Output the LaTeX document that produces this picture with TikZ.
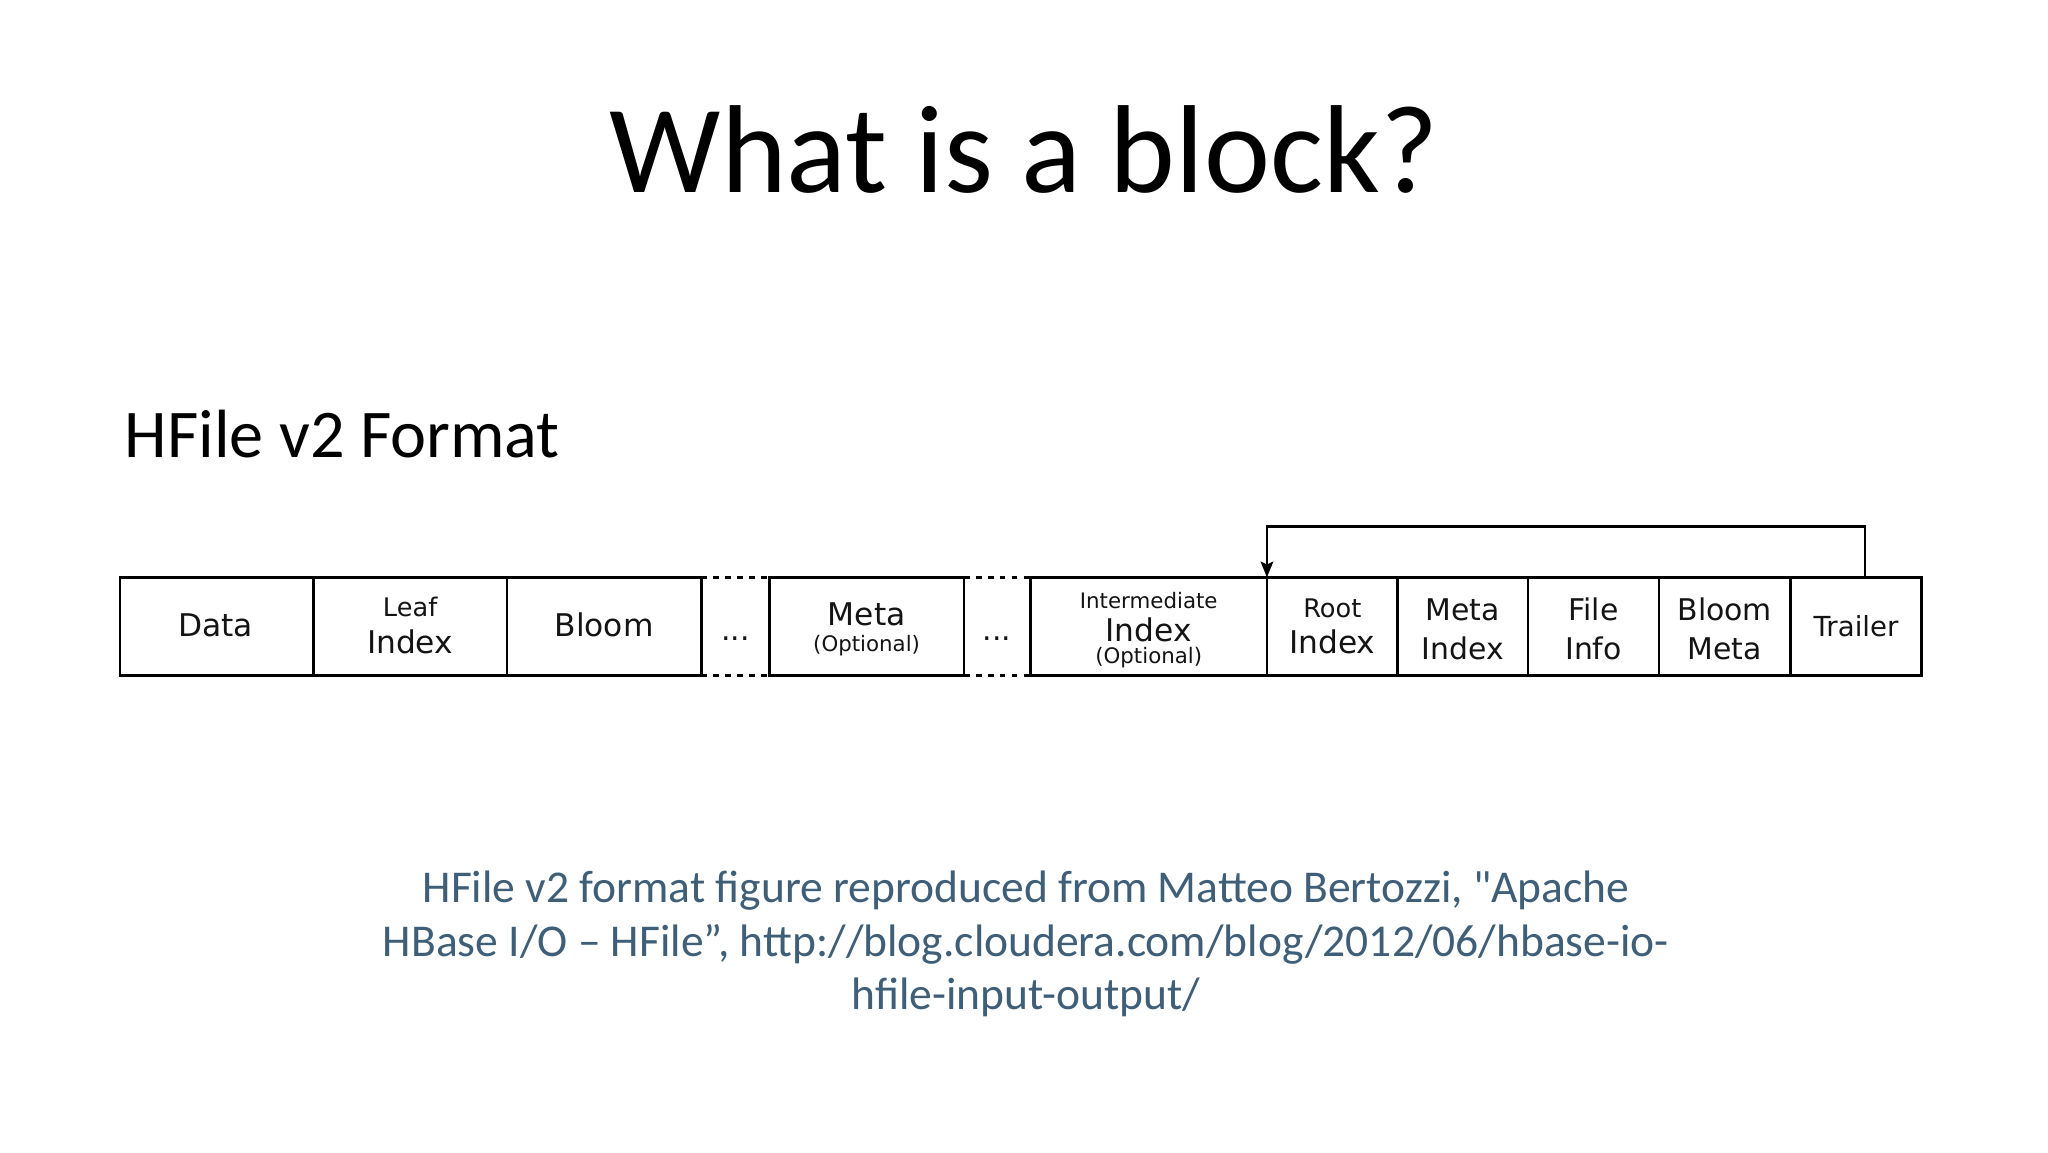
\documentclass[tikz,border=0pt]{standalone}
\usepackage{fontspec}
\setmainfont{Carlito}
\newfontfamily\capfont{Carlito}[Ligatures=TeXOff]
\newfontfamily\boxfont{DejaVu Sans}
\usetikzlibrary{arrows.meta,calc}
\definecolor{capblue}{HTML}{3F5E77}
\definecolor{boxtext}{HTML}{141414}
\begin{document}
\begin{tikzpicture}[x=0.45918pt,y=-0.45918pt,
  blk/.style={draw, line width=0.9pt, rectangle, inner sep=0pt, outer sep=0pt,
    anchor=north west, minimum height={75*0.45918pt}},
  bw/.style={minimum width={#1*0.45918pt}},
  lbl/.style={anchor=base, inner sep=0pt, text=boxtext},
  big/.style={lbl, font=\boxfont\fontsize{11}{13}\selectfont},
  mid/.style={lbl, font=\boxfont\fontsize{10.5}{12.5}\selectfont},
  sm/.style={lbl, font=\boxfont\fontsize{9}{11}\selectfont},
  tiny/.style={lbl, font=\boxfont\fontsize{7.5}{9}\selectfont},
  gap/.style={line width=0.9pt, dash pattern=on 2pt off 2.2pt},
  conn/.style={line width=0.9pt, -{Stealth[length=5.5pt,width=4.4pt,inset=1pt]}},
  captxt/.style={anchor=base, inner sep=0pt, text=capblue, font=\capfont\fontsize{16}{19}\selectfont}]
\useasboundingbox[fill=white] (0,0) rectangle (1568,882);

% title and heading
\node[anchor=base, inner sep=0pt, font=\fontsize{44}{52}\selectfont] (title) at (784,147) {What is a block?};
\node[anchor=base west, inner sep=0pt, font=\fontsize{24}{29}\selectfont] (heading) at (95,350) {HFile v2 Format};

% blocks
\node[blk,bw=148] (data)    at (92,442)   {};
\node[blk,bw=148] (leaf)    at (240,442)  {};
\node[blk,bw=149] (bloom)   at (388,442)  {};
\node[blk,bw=149] (meta)    at (589,442)  {};
\node[blk,bw=181] (inter)   at (789,442)  {};
\node[blk,bw=100] (root)    at (970,442)  {};
\node[blk,bw=100] (metaidx) at (1070,442) {};
\node[blk,bw=100] (fileinfo) at (1170,442) {};
\node[blk,bw=101] (bloommeta) at (1270,442) {};
\node[blk,bw=100] (trailer) at (1371,442) {};

% dotted gaps
\draw[gap] (bloom.north east) -- (meta.north west);
\draw[gap] (bloom.south east) -- (meta.south west);
\draw[gap] (meta.north east) -- (inter.north west);
\draw[gap] (meta.south east) -- (inter.south west);

% labels
\node[big] (tdata) at (165,487.5) {Data};
\node[sm]  (tleaf1) at (314,472) {Leaf};
\node[big] (tleaf2) at (314,500) {Index};
\node[big] (tbloom) at (462.5,487.5) {Bloom};
\node[mid] (dots1) at (563,490) {...};
\node[big] (tmeta1) at (663.5,478.6) {Meta};
\node[tiny] (tmeta2) at (663.5,499) {(Optional)};
\node[mid] (dots2) at (763.5,490) {...};
\node[tiny] (tint1) at (879.5,465.8) {Intermediate};
\node[big]  (tint2) at (879.5,491.3) {Index};
\node[tiny] (tint3) at (879.5,508) {(Optional)};
\node[sm]  (troot1) at (1020,472.7) {Root};
\node[big] (troot2) at (1020,500) {Index};
\node[mid] (tmi1) at (1120,474.7) {Meta};
\node[mid] (tmi2) at (1120,505) {Index};
\node[mid] (tfi1) at (1220,474.7) {File};
\node[mid] (tfi2) at (1220,505) {Info};
\node[mid] (tbm1) at (1320.5,474.7) {Bloom};
\node[mid] (tbm2) at (1320.5,505) {Meta};
\node[lbl, font=\boxfont\fontsize{9.7}{11.5}\selectfont] (ttr) at (1421,487.5) {Trailer};

% trailer -> root index pointer
\coordinate (tstart) at ($(trailer.north west)!0.57!(trailer.north east)$);
\draw[conn] (tstart) -- ++(0,-39) -| (root.north west);

% caption
\node[captxt] (cap1) at (785.5,691) {HFile v2 format figure reproduced from Matteo Bertozzi, "Apache};
\node[captxt] (cap2) at (785.5,732) {HBase I/O – HFile”, http://blog.cloudera.com/blog/2012/06/hbase-io-};
\node[captxt] (cap3) at (785.5,773) {hfile-input-output/};
\end{tikzpicture}
\end{document}
